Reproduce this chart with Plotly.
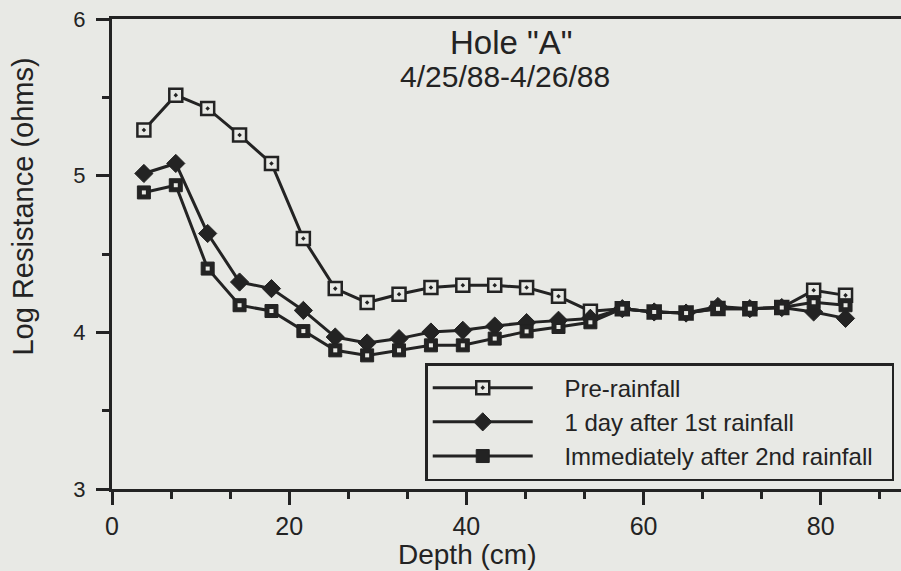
import plotly.graph_objects as go

# ---- data ----
depth_cm = [3.6, 7.2, 10.8, 14.4, 18.0, 21.6, 25.2, 28.8, 32.4, 36.0, 39.6, 43.2,
            46.8, 50.4, 54.0, 57.6, 61.2, 64.8, 68.4, 72.0, 75.6, 79.2, 82.8]

pre_rainfall = [5.291, 5.514, 5.429, 5.259, 5.078, 4.599, 4.279, 4.190, 4.243, 4.286,
                4.300, 4.300, 4.286, 4.230, 4.135, 4.151, 4.130, 4.123, 4.152, 4.151,
                4.158, 4.268, 4.236]

one_day_after_1st = [5.014, 5.078, 4.631, 4.321, 4.279, 4.140, 3.970, 3.932, 3.960, 4.002,
                     4.013, 4.040, 4.062, 4.077, 4.089, 4.151, 4.130, 4.123, 4.165, 4.151,
                     4.158, 4.130, 4.089]

immediately_after_2nd = [4.893, 4.939, 4.407, 4.173, 4.136, 4.008, 3.885, 3.853, 3.885, 3.917,
                         3.917, 3.960, 4.006, 4.034, 4.064, 4.151, 4.130, 4.123, 4.150, 4.151,
                         4.158, 4.192, 4.173]

series_names = ["Pre-rainfall", "1 day after 1st rainfall", "Immediately after 2nd rainfall"]
x_ticks = [0, 20, 40, 60, 80]
y_ticks = [3, 4, 5, 6]

# ---- styling ----
BG = "#e8e9e5"
INK = "#232323"
FONT = "Liberation Sans, Arial, Helvetica, sans-serif"
PAD = "&nbsp;" * 4   # gap between legend sample and its text
TAIL = "&nbsp;" * 2  # right padding inside the legend box

fig = go.Figure()

fig.add_trace(go.Scatter(
    x=depth_cm, y=pre_rainfall, name=PAD + series_names[0] + TAIL, mode="lines+markers",
    line=dict(color=INK, width=3),
    marker=dict(symbol="square-dot", size=13, color=BG, line=dict(color=INK, width=2.5)),
))
fig.add_trace(go.Scatter(
    x=depth_cm, y=one_day_after_1st, name=PAD + series_names[1] + TAIL, mode="lines+markers",
    line=dict(color=INK, width=3),
    marker=dict(symbol="diamond", size=14, color=INK, line=dict(color=INK, width=1)),
))
fig.add_trace(go.Scatter(
    x=depth_cm, y=immediately_after_2nd, name=PAD + series_names[2] + TAIL, mode="lines+markers",
    line=dict(color=INK, width=3),
    marker=dict(symbol="square", size=13, color=INK, line=dict(color=INK, width=1)),
))
# light centres of the filled squares
fig.add_trace(go.Scatter(
    x=depth_cm, y=immediately_after_2nd, mode="markers", showlegend=False, hoverinfo="skip",
    marker=dict(symbol="square", size=4, color=BG),
))

fig.update_layout(
    width=901, height=571,
    margin=dict(l=112, r=0, t=19, b=82),
    paper_bgcolor=BG, plot_bgcolor=BG,
    font=dict(family=FONT, color=INK),
    showlegend=True,
    legend=dict(
        x=0.397, y=0.268, xanchor="left", yanchor="top",
        bgcolor=BG, bordercolor=INK, borderwidth=2.5,
        font=dict(size=24, family=FONT, color=INK),
        itemwidth=100,
        tracegroupgap=0,
    ),
)

fig.update_xaxes(
    range=[0, 89.06], tickvals=x_ticks, ticktext=[str(v) for v in x_ticks],
    showgrid=False, zeroline=False,
    showline=True, linecolor=INK, linewidth=3, mirror=True,
    ticks="outside", ticklen=13, tickwidth=2.5, tickcolor=INK,
    tickfont=dict(size=25, family=FONT, color=INK),
    ticklabelstandoff=0,
    minor=dict(dtick=20 / 3, tick0=0, ticks="outside", ticklen=7, tickwidth=2.5, tickcolor=INK),
)
fig.update_yaxes(
    range=[3, 6], tickvals=y_ticks, ticktext=[str(v) for v in y_ticks],
    showgrid=False, zeroline=False,
    showline=True, linecolor=INK, linewidth=3, mirror=False,
    ticks="outside", ticklen=13, tickwidth=2.5, tickcolor=INK,
    tickfont=dict(size=22, family=FONT, color=INK),
    ticklabelstandoff=6,
    minor=dict(dtick=0.5, tick0=3, ticks="outside", ticklen=7, tickwidth=2.5, tickcolor=INK),
)

fig.add_annotation(text='Hole "A"', xref="paper", yref="paper", x=0.506, y=0.949,
                   showarrow=False, font=dict(size=33, family=FONT, color=INK),
                   xanchor="center", yanchor="middle")
fig.add_annotation(text="4/25/88-4/26/88", xref="paper", yref="paper", x=0.498, y=0.878,
                   showarrow=False, font=dict(size=30, family=FONT, color=INK),
                   xanchor="center", yanchor="middle")
fig.add_annotation(text="Log Resistance (ohms)", xref="paper", yref="paper", x=-0.1128, y=0.601,
                   textangle=-90, showarrow=False, font=dict(size=29, family=FONT, color=INK),
                   xanchor="center", yanchor="middle")
fig.add_annotation(text="Depth (cm)", xref="paper", yref="paper", x=0.45, y=-0.14,
                   showarrow=False, font=dict(size=28, family=FONT, color=INK),
                   xanchor="center", yanchor="middle")

fig.write_html("out.html")
